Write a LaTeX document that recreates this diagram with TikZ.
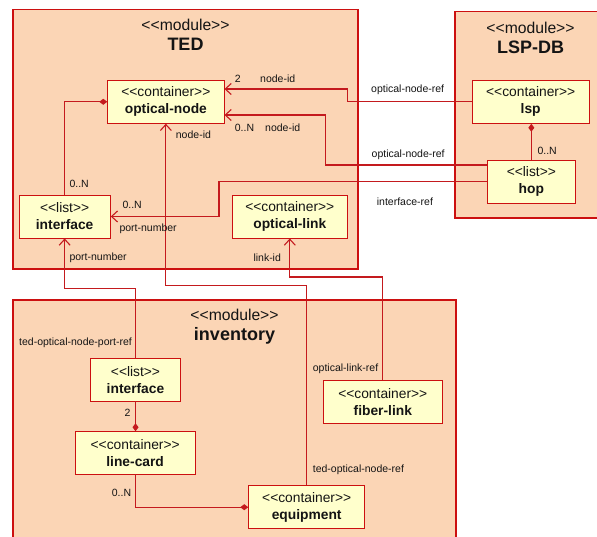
\documentclass[tikz,border=0pt]{standalone}
\usepackage{fontspec}
\setmainfont{Liberation Sans}[Ligatures=TeXOff]
\usetikzlibrary{arrows.meta}
\definecolor{modfill}{RGB}{251,213,181}
\definecolor{modline}{RGB}{204,16,16}
\definecolor{clsfill}{RGB}{255,255,204}
\definecolor{wire}{RGB}{196,26,30}
\definecolor{ink}{RGB}{20,20,20}
\tikzset{
  module/.style={draw=modline, fill=modfill, line width=1.2pt},
  modtitle/.style={align=center, text=ink, font=\fontsize{15.7}{20}\selectfont, inner sep=0pt},
  cls/.style={draw=modline, fill=clsfill, line width=0.9pt, align=center, text=ink,
    font=\fontsize{13.8}{17}\selectfont, inner sep=0pt},
  lbl/.style={anchor=west, text=ink, font=\fontsize{10.5}{12}\selectfont, inner sep=0pt},
  wireline/.style={draw=wire, line width=1.1pt},
  navig/.style={wireline, -{Straight Barb[length=6pt,width=11pt,line width=1.1pt]}},
  compose/.style={wireline, -{Diamond[length=8pt,width=6pt,fill=wire]}},
}
\begin{document}
\begin{tikzpicture}[x=1pt,y=-1pt]
\useasboundingbox (0,0) rectangle (597,537);
\clip (0,0) rectangle (597,537);

% modules
\fill[white] (0,0) rectangle (597,537);
\draw[module] (13,9.5) rectangle (358,269);
\draw[module] (455,11.5) rectangle (610,218);
\draw[module] (13,300) rectangle (456,550);

\node[modtitle] (tedtitle) at (185.5,35) {<<module>>\\\fontsize{18}{20}\selectfont\bfseries TED};
\node[modtitle] (lsptitle) at (530.5,38) {<<module>>\\\fontsize{18}{20}\selectfont\bfseries LSP-DB};
\node[modtitle] (invtitle) at (234.5,327) {<<module>>\\\fontsize{18}{20}\selectfont\bfseries inventory};

% classes
\node[cls, minimum width=116.3pt, minimum height=43pt] (onode) at (165.85,101.8) {<<container>>\\\bfseries optical-node};
\node[cls, minimum width=91.3pt, minimum height=43pt] (tif) at (64.65,216.5) {<<list>>\\\bfseries interface};
\node[cls, minimum width=115pt, minimum height=43pt] (olink) at (289.8,216.5) {<<container>>\\\bfseries optical-link};
\node[cls, minimum width=116.7pt, minimum height=43pt] (lsp) at (530.65,101.8) {<<container>>\\\bfseries lsp};
\node[cls, minimum width=88.7pt, minimum height=42.7pt] (hop) at (531.35,181.65) {<<list>>\\\bfseries hop};
\node[cls, minimum width=89.6pt, minimum height=42.7pt] (iif) at (135.5,379.65) {<<list>>\\\bfseries interface};
\node[cls, minimum width=119.7pt, minimum height=42.3pt] (lcard) at (135.15,452.85) {<<container>>\\\bfseries line-card};
\node[cls, minimum width=116pt, minimum height=43pt] (equip) at (306.7,507.2) {<<container>>\\\bfseries equipment};
\node[cls, minimum width=119pt, minimum height=43.3pt] (flink) at (382.8,401.65) {<<container>>\\\bfseries fiber-link};

% references
\draw[navig] (lsp.west) -| (347.7,89) -- (onode.east |- 0,89);
\draw[navig] (hop.west |- 0,165) -| (325.7,115) -- (onode.east |- 0,115);
\draw[navig] (hop.west) -| (219,216.5) -- (tif.east);
\draw[navig] (iif.north) -- (iif.north |- 0,288.3) -| (tif.south);
\draw[navig] (equip.north) -- (equip.north |- 0,285.5) -| (onode.south);
\draw[navig] (flink.north) -- (flink.north |- 0,277) -| (olink.south);

% containment
\draw[compose] (tif.north) |- (onode.west);
\draw[compose] (hop.north) -- (hop.north |- lsp.south);
\draw[compose] (iif.south) -- (iif.south |- lcard.north);
\draw[compose] (lcard.south) |- (equip.west);

% labels
\node[lbl] (l1) at (234.7,79) {2};
\node[lbl] (l2) at (260,79) {node-id};
\node[lbl] (l3) at (371,90) {optical-node-ref};
\node[lbl] (l4) at (234.7,127.7) {0..N};
\node[lbl] (l5) at (265,128) {node-id};
\node[lbl] (l6) at (371.5,155) {optical-node-ref};
\node[lbl] (l7) at (122.3,205) {0..N};
\node[lbl] (l8) at (119.3,228.7) {port-number};
\node[lbl] (l9) at (376.7,202) {interface-ref};
\node[lbl] (l10) at (69.3,184) {0..N};
\node[lbl] (l11) at (69.3,258) {port-number};
\node[lbl] (l12) at (19,342.7) {ted-optical-node-port-ref};
\node[lbl] (l13) at (175.7,135) {node-id};
\node[lbl] (l14) at (312.7,469.3) {ted-optical-node-ref};
\node[lbl] (l15) at (253.3,258) {link-id};
\node[lbl] (l16) at (312.7,368.3) {optical-link-ref};
\node[lbl] (l17) at (124.5,412.7) {2};
\node[lbl] (l18) at (111.7,492.7) {0..N};
\node[lbl] (l19) at (537.3,150.7) {0..N};
\end{tikzpicture}
\end{document}
